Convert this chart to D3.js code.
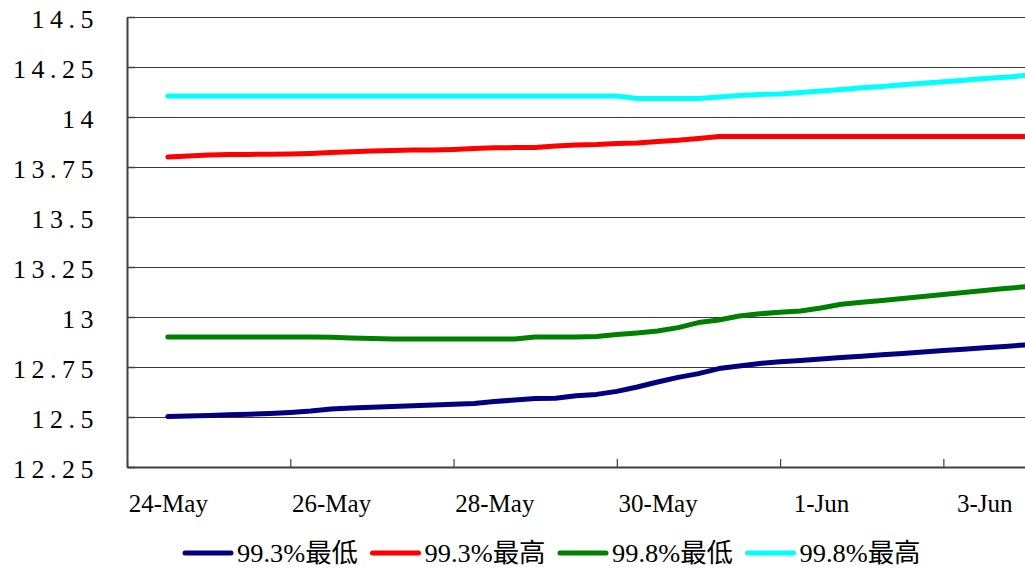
<!DOCTYPE html>
<html><head><meta charset="utf-8">
<script src="https://cdn.jsdelivr.net/npm/d3@7"></script>
<style>body{margin:0;background:#fff} svg{display:block}</style>
</head><body>
<svg id="c" width="1025" height="569"></svg>
<script>
// ---- data ----
const seriesNames = ["99.3%最低", "99.3%最高", "99.8%最低", "99.8%最高"];
const seriesColors = ["#000080", "#ff0000", "#008000", "#00ffff"];
// samples every 6 hours from 24-May 12:00 to 4-Jun 00:00
const sampleTimes = d3.timeHour.range(new Date(2021, 4, 24, 12), new Date(2021, 5, 4, 1), 6);
const low993 = [12.502,12.505,12.508,12.511,12.514,12.518,12.523,12.530,12.540,12.545,12.549,12.552,12.556,12.560,12.564,12.568,12.577,12.585,12.593,12.594,12.606,12.613,12.628,12.650,12.675,12.698,12.717,12.742,12.755,12.768,12.776,12.783,12.790,12.797,12.804,12.811,12.818,12.825,12.832,12.839,12.846,12.853,12.860];
const high993 = [13.800,13.805,13.810,13.812,13.813,13.814,13.815,13.818,13.822,13.826,13.830,13.833,13.835,13.835,13.838,13.842,13.846,13.847,13.847,13.855,13.860,13.862,13.868,13.870,13.878,13.884,13.892,13.902,13.902,13.902,13.902,13.902,13.902,13.902,13.902,13.902,13.902,13.902,13.902,13.902,13.902,13.902,13.902];
const low998 = [12.900,12.900,12.900,12.900,12.900,12.900,12.900,12.900,12.899,12.895,12.892,12.890,12.890,12.890,12.890,12.890,12.890,12.890,12.900,12.900,12.900,12.903,12.912,12.920,12.930,12.947,12.972,12.985,13.005,13.016,13.024,13.030,13.045,13.064,13.074,13.083,13.093,13.103,13.113,13.122,13.132,13.142,13.151];
const high998 = [14.105,14.105,14.105,14.105,14.105,14.105,14.105,14.105,14.105,14.105,14.105,14.105,14.105,14.105,14.105,14.105,14.105,14.105,14.105,14.105,14.105,14.105,14.105,14.092,14.092,14.092,14.092,14.100,14.107,14.113,14.115,14.123,14.130,14.138,14.146,14.153,14.161,14.169,14.176,14.184,14.192,14.199,14.207];
const seriesValues = [low993, high993, low998, high998];
const yTickValues = [12.25, 12.5, 12.75, 13, 13.25, 13.5, 13.75, 14, 14.25, 14.5];
const yTickLabels = ["12.25", "12.5", "12.75", "13", "13.25", "13.5", "13.75", "14", "14.25", "14.5"];
const xTickDates = [new Date(2021,4,24), new Date(2021,4,26), new Date(2021,4,28), new Date(2021,4,30), new Date(2021,5,1), new Date(2021,5,3)];
const xTickLabels = ["24-May", "26-May", "28-May", "30-May", "1-Jun", "3-Jun"];

// ---- layout ----
const svg = d3.select("#c");
const L = 127, R = 1025, T = 17, B = 467;
const x = d3.scaleTime().domain([new Date(2021,4,24), new Date(2021,5,4)]).range([L, R]);
const y = d3.scaleLinear().domain([12.25, 14.5]).range([B, T]);
const font = "'Liberation Serif','Noto Sans CJK SC',serif";

svg.append("rect").attr("width",1025).attr("height",569).attr("fill","#fff");

// gridlines
svg.append("g").selectAll("line").data(yTickValues.slice(1)).join("line")
  .attr("x1", L).attr("x2", R)
  .attr("y1", d => Math.round(y(d)) + 0.5).attr("y2", d => Math.round(y(d)) + 0.5)
  .attr("stroke", "#3a3a3a").attr("stroke-width", 1.2);

// y axis
const yAxis = svg.append("g").attr("transform", `translate(${L},0)`)
  .call(d3.axisLeft(y).tickValues(yTickValues).tickSizeInner(-8).tickSizeOuter(0).tickPadding(28)
    .tickFormat((d,i) => yTickLabels[i]));
yAxis.select(".domain").attr("stroke", "#404040").attr("stroke-width", 2);
yAxis.selectAll(".tick line").attr("stroke", "#404040").attr("stroke-width", 1.5);
yAxis.selectAll("text").attr("font-family", font).attr("font-size", 26)
  .attr("letter-spacing", 5.5).attr("fill", "#000").attr("dy", "0.42em");

// x axis (tick marks)
const xAxis = svg.append("g").attr("transform", `translate(0,${B})`)
  .call(d3.axisBottom(x).tickValues(xTickDates).tickSizeInner(-8).tickSizeOuter(0).tickFormat(""));
xAxis.select(".domain").attr("stroke", "#404040").attr("stroke-width", 2);
xAxis.selectAll(".tick line").attr("stroke", "#404040").attr("stroke-width", 1.2);

// x labels centered on each date's slot
const xLab = svg.append("g").attr("transform", `translate(0,${B})`)
  .call(d3.axisBottom(x).tickValues(xTickDates.map(d => d3.timeHour.offset(d, 12))).tickSize(0).tickPadding(27)
    .tickFormat((d,i) => xTickLabels[i]));
xLab.select(".domain").remove();
xLab.selectAll("text").attr("font-family", font).attr("font-size", 25).attr("fill", "#000");

// lines
svg.append("clipPath").attr("id","clip").append("rect").attr("x", L).attr("y", 0).attr("width", R - L).attr("height", 569);
const line = d3.line().x((d,i) => x(sampleTimes[i])).y(d => y(d));
svg.append("g").attr("clip-path","url(#clip)").selectAll("path").data(seriesValues).join("path")
  .attr("d", d => line(d)).attr("fill", "none")
  .attr("stroke", (d,i) => seriesColors[i]).attr("stroke-width", 5)
  .attr("stroke-linecap", "round").attr("stroke-linejoin", "round");

// legend
const leg = svg.append("g").attr("transform", "translate(183,553)");
const items = leg.selectAll("g").data(seriesNames).join("g").attr("transform", (d,i) => `translate(${i*187.5},0)`);
items.append("line").attr("x1", 2).attr("x2", 48).attr("stroke", (d,i) => seriesColors[i])
  .attr("stroke-width", 5).attr("stroke-linecap", "round");
items.append("text").attr("x", 54).attr("dy", "0.36em").text(d => d)
  .attr("font-family", font).attr("font-size", 26)
  .attr("textLength", 121).attr("lengthAdjust", "spacingAndGlyphs").attr("fill", "#000");
</script>
</body></html>
